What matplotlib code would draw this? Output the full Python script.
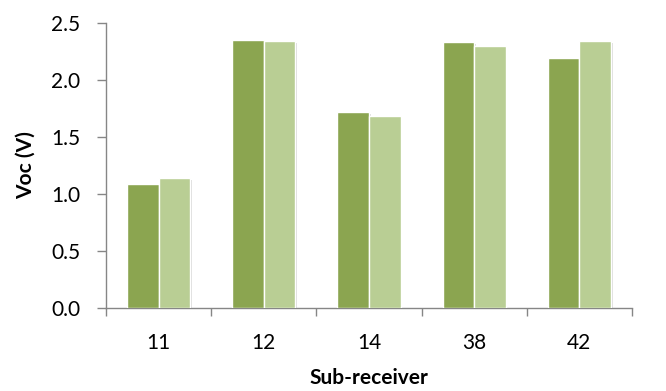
import matplotlib
matplotlib.use("Agg")
import matplotlib.pyplot as plt
import matplotlib.patheffects as pe
import numpy as np

categories = ["11", "12", "14", "38", "42"]
series_a = [1.09, 2.35, 1.72, 2.33, 2.19]
series_b = [1.14, 2.34, 1.68, 2.30, 2.34]
y_ticks = [0.0, 0.5, 1.0, 1.5, 2.0, 2.5]

plt.rcParams["font.family"] = ["Lato", "DejaVu Sans"]

fig = plt.figure(figsize=(6.66, 3.91), dpi=100)
ax = fig.add_axes([106 / 666, 1 - 308 / 391, (632 - 106) / 666, (308 - 23) / 391])

x = np.arange(len(categories))
w = 0.30
shadow = [pe.SimplePatchShadow(offset=(1.2, -1.2), shadow_rgbFace="#999999", alpha=0.35), pe.Normal()]
ax.bar(x - w / 2, series_a, width=w, color="#8ba550", edgecolor="white", linewidth=1.0,
       path_effects=shadow, zorder=3)
ax.bar(x + w / 2, series_b, width=w, color="#b9ce94", edgecolor="white", linewidth=1.0,
       path_effects=shadow, zorder=3)

ax.set_xlim(-0.5, len(categories) - 0.5)
ax.set_ylim(0, 2.5)
ax.set_yticks(y_ticks)
ax.set_yticklabels([f"{v:.1f}" for v in y_ticks])

ax.set_xticks(np.arange(len(categories) + 1) - 0.5)
ax.set_xticklabels([])
ax.set_xticks(x, minor=True)
ax.set_xticklabels(categories, minor=True)

axis_color = "#868686"
for side in ("top", "right"):
    ax.spines[side].set_visible(False)
for side in ("left", "bottom"):
    ax.spines[side].set_color(axis_color)
    ax.spines[side].set_linewidth(1.0)

fs = 15
ax.tick_params(axis="y", which="major", length=6.5, width=1.0, color=axis_color,
               labelsize=fs, pad=12, labelcolor="black")
ax.tick_params(axis="x", which="major", length=6, width=1.0, color=axis_color)
ax.tick_params(axis="x", which="minor", length=0, labelsize=fs, pad=18, labelcolor="black")

ax.set_ylabel("Voc (V)", fontsize=fs, fontweight="bold", labelpad=11)
ax.set_xlabel("Sub-receiver", fontsize=fs, fontweight="bold", labelpad=11)

fig.savefig("out.png", dpi=100)
